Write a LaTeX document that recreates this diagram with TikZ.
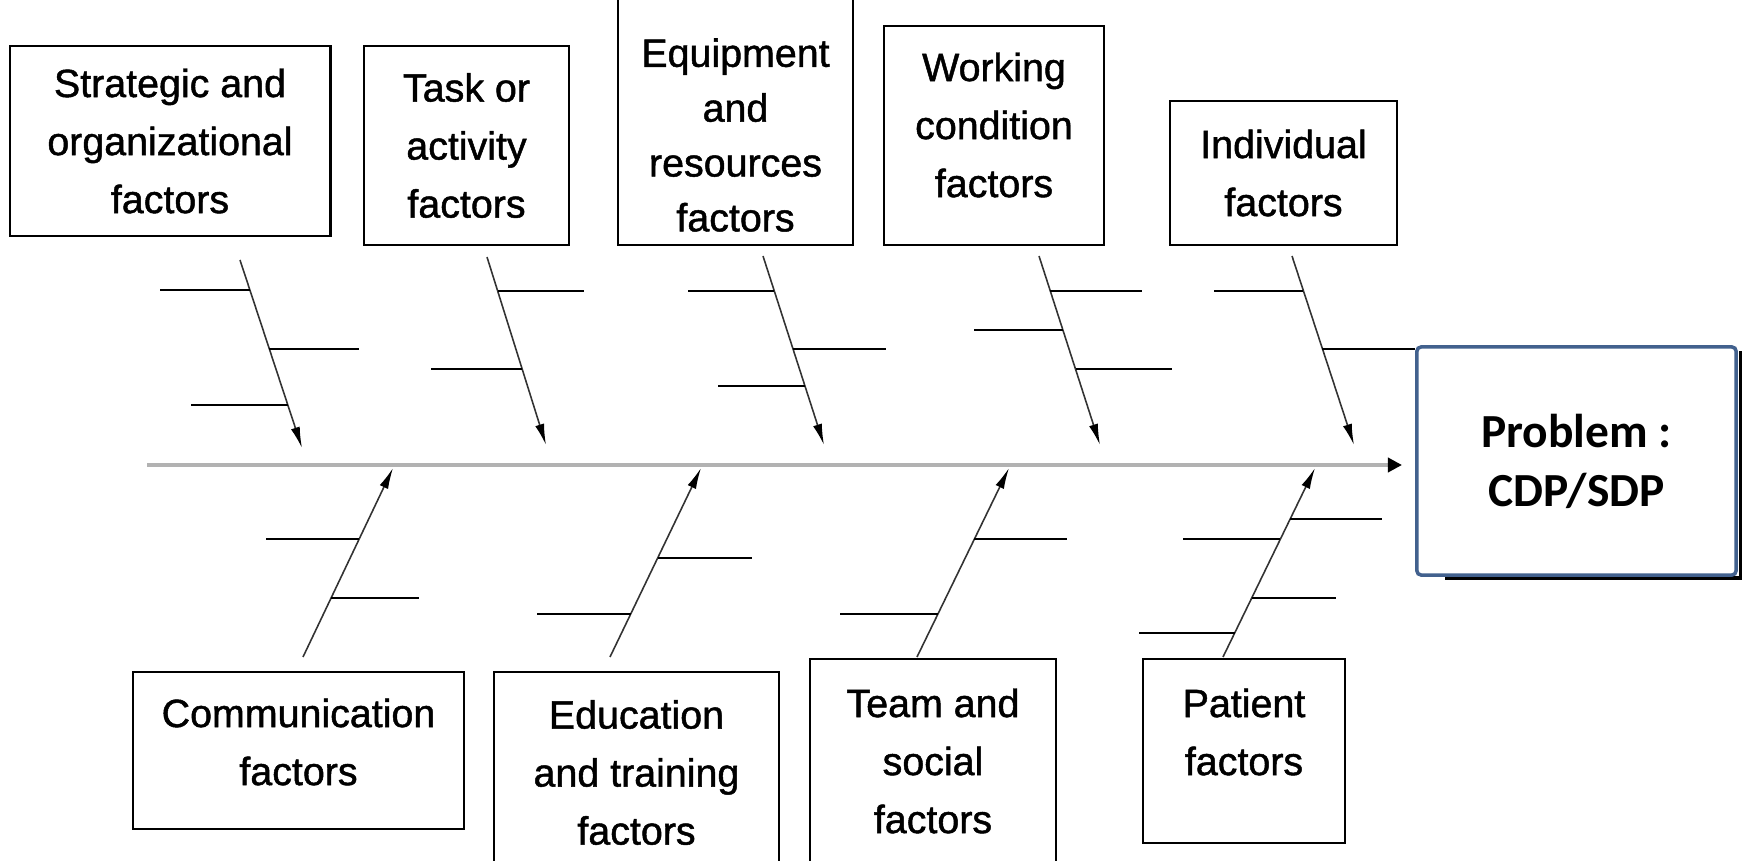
\documentclass[tikz,border=0pt]{standalone}
\usepackage{fontspec}
\setmainfont{Liberation Sans}
\newfontfamily\factorfont{Liberation Sans}[FakeBold=1.2]
\newfontfamily\probfont{Carlito}
\usetikzlibrary{arrows.meta,fit,calc}
\definecolor{probblue}{RGB}{66,97,142}
\definecolor{spinegray}{RGB}{178,178,178}

\begin{document}
\begin{tikzpicture}[x=0.01cm, y=-0.01cm,
  factor/.style={draw, line width=0.8pt, align=center, inner sep=0pt,
    font=\factorfont\fontsize{11.2}{16.5}\selectfont},
  factortxt/.style={align=center, inner sep=0pt,
    font=\factorfont\fontsize{11.2}{16.5}\selectfont},
  problem/.style={draw=probblue, line width=1pt, rounded corners=1.2pt,
    fill=white, align=center,
    font=\probfont\bfseries\fontsize{13.5}{16.8}\selectfont},
  spine/.style={spinegray, line width=1.3pt,
    -{Triangle[length=4pt,width=4pt,color=black]}},
  bone/.style={black!80, line width=0.45pt,
    -{Latex[length=6pt,width=2.6pt,color=black]}},
  rib/.style={line width=0.85pt}
]
\useasboundingbox (0,0) rectangle (1742,861);

% cause boxes
\node[factor, minimum width=3.2cm, minimum height=1.9cm] (strat) at (170,141)
  {Strategic and\\organizational\\factors};
\node[factor, minimum width=2.05cm, minimum height=1.99cm] (task) at (466.5,145.5)
  {Task or\\activity\\factors};
\node[factortxt, font=\factorfont\fontsize{11.2}{15.6}\selectfont] (equiptxt)
  at (735.5,135) {Equipment\\and\\resources\\factors};
\node[factor, fit={(618,-60) (853,245)}] (equip) {};
\node[factortxt] (worktxt) at (994,125) {Working\\condition\\factors};
\node[factor, fit={(884,26) (1104,245)}] (work) {};
\node[factor, minimum width=2.27cm, minimum height=1.44cm] (indiv) at (1283.5,173)
  {Individual\\factors};
\node[factortxt] (commtxt) at (298.5,742) {Communication\\factors};
\node[factor, fit={(133,672) (464,829)}] (comm) {};
\node[factor, minimum width=2.85cm, minimum height=2.01cm] (edu) at (636.5,772.5)
  {Education\\and training\\factors};
\node[factor, minimum width=2.46cm, minimum height=2.04cm] (team) at (933,761)
  {Team and\\social\\factors};
\node[factortxt] (patienttxt) at (1244,732) {Patient\\factors};
\node[factor, fit={(1143,659) (1345,843)}] (patient) {};

% problem box with its shadow
\draw[line width=1.1pt] (1445,578) -| (1741,351);
\node[problem, minimum width=3.19cm, minimum height=2.28cm] (prob) at (1576.5,461)
  {Problem :\\CDP/SDP};

% spine
\coordinate (tail) at (147,465);
\coordinate (head) at (1402,465);
\draw[spine] (tail) -- (head);

% upper bones
\coordinate (t1s) at (240,260);  \coordinate (t1e) at (302,448);
\coordinate (t2s) at (487,257);  \coordinate (t2e) at (546,445);
\coordinate (t3s) at (763,256);  \coordinate (t3e) at (824,445);
\coordinate (t4s) at (1039,256); \coordinate (t4e) at (1100,445);
\coordinate (t5s) at (1292,256); \coordinate (t5e) at (1354,445);
\draw[bone] (t1s) -- (t1e);
\draw[bone] (t2s) -- (t2e);
\draw[bone] (t3s) -- (t3e);
\draw[bone] (t4s) -- (t4e);
\draw[bone] (t5s) -- (t5e);
\draw[rib] (160,290) -- (250,290) (269,349) -- (359,349) (191,405) -- (288,405);
\draw[rib] (498,291) -- (584,291) (431,369) -- (522,369);
\draw[rib] (688,291) -- (774,291) (793,349) -- (886,349) (718,386) -- (805,386);
\draw[rib] (1050,291) -- (1142,291) (974,330) -- (1063,330) (1076,369) -- (1172,369);
\draw[rib] (1214,291) -- (1303,291) (1322,349) -- (prob.west |- 0,349);

% lower bones
\coordinate (b1s) at (303,657);  \coordinate (b1e) at (393,468);
\coordinate (b2s) at (610,657);  \coordinate (b2e) at (701,468);
\coordinate (b3s) at (917,657);  \coordinate (b3e) at (1009,468);
\coordinate (b4s) at (1223,657); \coordinate (b4e) at (1315,468);
\draw[bone] (b1s) -- (b1e);
\draw[bone] (b2s) -- (b2e);
\draw[bone] (b3s) -- (b3e);
\draw[bone] (b4s) -- (b4e);
\draw[rib] (266,539) -- (359,539) (331,598) -- (419,598);
\draw[rib] (658,558) -- (752,558) (537,614) -- (631,614);
\draw[rib] (974,539) -- (1067,539) (840,614) -- (938,614);
\draw[rib] (1290,519) -- (1382,519) (1183,539) -- (1280,539)
  (1252,598) -- (1336,598) (1139,633) -- (1235,633);
\end{tikzpicture}
\end{document}
